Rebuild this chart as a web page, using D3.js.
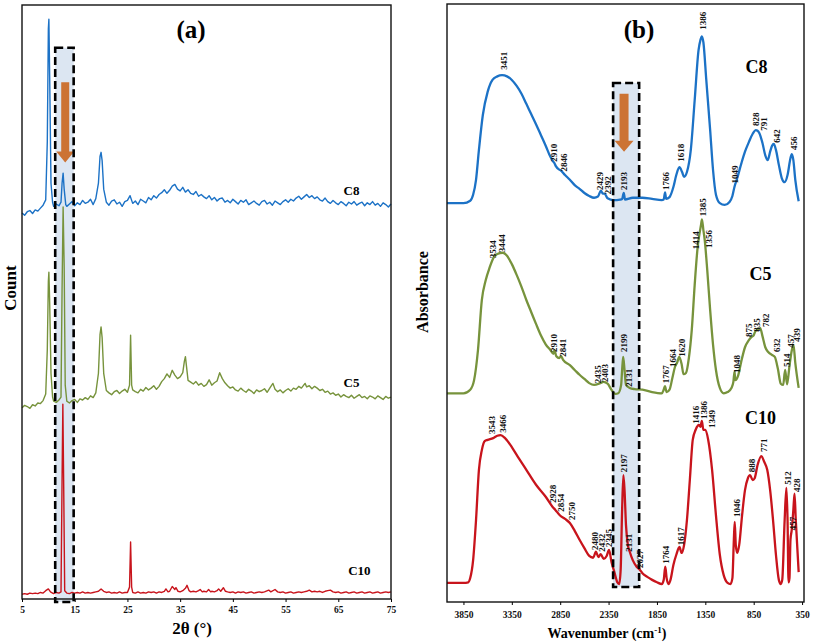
<!DOCTYPE html>
<html><head><meta charset="utf-8">
<script src="https://cdn.jsdelivr.net/npm/d3@7"></script>
<style>
html,body{margin:0;padding:0;background:#fff;}
svg text{font-family:"Liberation Serif","Times New Roman",serif;font-weight:bold;}
</style></head>
<body><svg id="chart" width="813" height="643"></svg>
<script>
// ---------- Panel (a): XRD ----------
const xrdTicks = [5,15,25,35,45,55,65,75];
const xrdC8 = [[5,650],[5.5,646],[6,652],[6.5,654],[7,649],[7.5,655],[8,653],[8.5,658],[9,663],[9.5,672],[9.8,770],[10,960],[10.1,976],[10.25,880],[10.5,700],[10.8,668],[11,661],[11.5,665],[12,662],[12.4,668],[12.6,700],[12.8,717],[13,690],[13.3,664],[13.5,661],[14,665],[14.5,669],[15,662],[15.5,667],[16,664],[16.5,671],[17,666],[17.5,668],[18,673],[18.5,664],[19,674],[19.5,700],[19.8,745],[20,752],[20.2,738],[20.5,690],[21,668],[21.5,663],[22,670],[22.5,672],[23,665],[23.5,668],[24,661],[24.5,669],[25,671],[25.5,679],[26,666],[26.5,670],[27,664],[27.5,673],[28,670],[28.5,667],[29,676],[29.5,672],[30,679],[30.5,675],[31,681],[31.5,684],[32,689],[32.5,683],[33,688],[33.5,695],[34,698],[34.5,690],[35,687],[35.5,693],[36,685],[36.5,689],[37,683],[37.5,681],[38,686],[38.5,678],[39,681],[39.5,677],[40,674],[40.5,679],[41,672],[41.5,676],[42,670],[42.5,674],[43,675],[43.5,668],[44,671],[44.5,667],[45,673],[45.5,669],[46,665],[46.5,671],[47,668],[47.5,672],[48,664],[48.5,667],[49,670],[49.5,666],[50,663],[50.5,669],[51,671],[51.5,665],[52,668],[52.5,663],[53,670],[53.5,667],[54,664],[54.5,669],[55,672],[55.5,668],[56,673],[56.5,670],[57,675],[57.5,678],[58,673],[58.5,677],[59,681],[59.5,676],[60,679],[60.5,674],[61,677],[61.5,672],[62,670],[62.5,675],[63,669],[63.5,666],[64,671],[64.5,667],[65,664],[65.5,669],[66,666],[66.5,662],[67,668],[67.5,665],[68,669],[68.5,663],[69,666],[69.5,668],[70,662],[70.5,667],[71,664],[71.5,669],[72,663],[72.5,666],[73,661],[73.5,667],[74,664],[74.5,660],[75,665]];
const xrdC5 = [[5,322],[5.5,326],[6,324],[6.5,321],[7,327],[7.5,325],[8,330],[8.5,329],[9,334],[9.5,345],[9.8,420],[10,535],[10.1,550],[10.25,500],[10.5,380],[10.8,340],[11,333],[11.5,331],[12,335],[12.4,340],[12.6,520],[12.8,660],[13,560],[13.2,360],[13.5,333],[14,330],[14.5,334],[15,336],[15.5,331],[16,337],[16.5,335],[17,339],[17.5,336],[18,342],[18.5,339],[19,347],[19.5,380],[19.8,445],[20,458],[20.2,440],[20.5,380],[21,351],[21.5,347],[22,344],[22.5,349],[23,351],[23.5,346],[24,350],[24.5,353],[25,348],[25.4,360],[25.6,444],[25.8,360],[26,352],[26.5,349],[27,347],[27.5,353],[28,350],[28.5,356],[29,352],[29.5,355],[30,359],[30.5,353],[31,358],[31.5,366],[32,371],[32.5,379],[33,373],[33.5,385],[34,377],[34.5,371],[35,374],[35.5,381],[35.8,400],[36,408],[36.2,392],[36.5,368],[37,365],[37.5,362],[38,366],[38.5,360],[39,363],[39.5,358],[40,361],[40.5,369],[41,360],[41.5,364],[42,367],[42.5,381],[43,371],[43.5,364],[44,359],[44.5,355],[45,357],[45.5,352],[46,350],[46.5,355],[47,351],[47.5,348],[48,353],[48.5,350],[49,346],[49.5,352],[50,349],[50.5,351],[51,354],[51.5,348],[52,355],[52.6,363],[53,353],[53.5,349],[54,352],[54.5,347],[55,351],[55.5,354],[56,350],[56.5,355],[57,353],[57.5,358],[58,355],[58.7,363],[59,357],[59.5,359],[60,354],[60.5,358],[61,355],[61.5,351],[62,353],[62.5,348],[63,350],[63.5,345],[64,347],[64.5,343],[65,345],[65.5,340],[66,344],[66.5,341],[67,339],[67.5,343],[68,338],[68.5,341],[69,344],[69.5,339],[70,341],[70.5,337],[71,342],[71.5,340],[72,337],[72.5,342],[73,339],[73.5,336],[74,341],[74.5,338],[75,340]];
const xrdC10 = [[5,8],[5.5,9],[6,8],[6.5,10],[7,9],[7.5,10],[8,9],[8.5,11],[9,10],[9.5,14],[10,17],[10.4,12],[10.8,10],[11,9],[11.5,11],[12,10],[12.4,12],[12.6,200],[12.75,328],[12.9,200],[13.1,14],[13.5,10],[14,9],[14.5,11],[15,10],[15.5,11],[16,10],[16.5,12],[17,10],[17.5,11],[18,10],[18.5,11],[19,12],[19.5,13],[20,17],[20.5,13],[21,11],[21.5,12],[22,10],[22.5,11],[23,10],[23.5,12],[24,10],[24.5,11],[25,11],[25.4,20],[25.6,96],[25.8,20],[26,11],[26.5,10],[27,12],[27.5,10],[28,11],[28.5,10],[29,12],[29.5,11],[30,12],[30.5,10],[31,12],[31.5,11],[32,13],[32.3,17],[32.7,12],[33,13],[33.5,21],[34,16],[34.2,19],[34.6,13],[35,12],[35.5,14],[36,18],[36.3,23],[36.7,14],[37,12],[37.5,13],[38,12],[38.5,14],[38.8,16],[39.2,12],[39.5,13],[40,12],[40.4,16],[40.8,12],[41,13],[41.5,12],[42,14],[42.3,17],[42.7,13],[43.2,19],[43.6,13],[44,12],[44.5,11],[45,12],[45.5,10],[46,12],[46.5,11],[47,12],[47.5,10],[48,11],[48.5,12],[49,10],[49.5,11],[50,12],[50.5,11],[51,12],[51.8,15],[52.2,12],[53,16],[53.5,12],[54,11],[54.5,12],[55,10],[55.5,11],[56,12],[56.5,10],[57,11],[57.5,12],[58,11],[58.5,12],[59,13],[59.5,15],[60,12],[60.5,13],[61,12],[61.5,13],[62,11],[62.5,13],[63,14],[63.5,15],[64,12],[64.5,11],[65,12],[65.5,10],[66,11],[66.5,12],[67,10],[67.5,11],[68,12],[68.5,10],[69,11],[69.5,12],[70,10],[70.5,11],[71,12],[71.5,10],[72,11],[72.5,12],[73,10],[73.5,11],[74,12],[74.5,11],[75,12]];
const xrdNames = ["C8","C5","C10"];
const xrdNamePos = [[67.5,680],[67.5,357],[69,40]];   // [2θ, count]
const xrdBox = [11.3,14.8,928,-5];     // x0,x1,yTop,yBottom
const xrdArrow = [13.2,870,735];       // x, yStart, yTip

// ---------- Panel (b): FTIR ----------
const ftirTicks = [3850,3350,2850,2350,1850,1350,850,350];
const ftirC8 = [[4020,66.7],[3850,66.7],[3780,67.1],[3750,68.1],[3720,70.6],[3690,75.6],[3650,81.4],[3600,85.3],[3550,87.3],[3500,87.9],[3451,88.1],[3400,87.9],[3350,87.3],[3300,86.3],[3250,85.0],[3200,83.3],[3150,81.6],[3100,79.9],[3050,78.1],[3000,76.3],[2950,74.4],[2920,73.6],[2910,73.4],[2895,72.9],[2860,72.3],[2846,72.2],[2800,71.4],[2750,70.6],[2700,69.7],[2650,69.1],[2600,68.4],[2550,67.9],[2500,67.6],[2460,67.8],[2429,68.8],[2410,68.3],[2392,68.3],[2360,67.5],[2300,67.2],[2230,67.3],[2210,67.4],[2193,68.4],[2180,67.3],[2100,67.6],[2000,67.6],[1900,67.4],[1800,67.2],[1780,67.3],[1766,68.5],[1755,67.4],[1720,67.7],[1680,69.4],[1650,71.4],[1618,72.7],[1590,71.9],[1570,71.1],[1540,71.9],[1500,75.6],[1460,83.9],[1420,92.3],[1400,94.0],[1386,94.6],[1370,93.6],[1340,87.3],[1300,78.9],[1270,72.2],[1240,68.1],[1200,66.7],[1150,66.4],[1100,66.9],[1070,67.9],[1049,69.4],[1020,70.9],[980,73.2],[940,75.3],[900,76.9],[860,78.3],[828,78.9],[810,78.8],[791,78.4],[760,76.8],[730,74.7],[705,73.9],[680,75.3],[660,76.3],[642,76.6],[620,75.6],[590,73.1],[560,70.9],[530,70.2],[500,71.4],[470,74.2],[456,74.9],[440,73.9],[420,70.6],[385,67.0]];
const ftirC5 = [[4020,34.9],[3850,34.9],[3780,35.5],[3740,37.1],[3700,42.1],[3660,50.5],[3620,53.8],[3580,55.9],[3534,57.7],[3500,58.2],[3444,58.4],[3400,57.9],[3350,56.5],[3300,54.7],[3250,52.7],[3200,50.5],[3150,48.5],[3100,46.5],[3050,44.6],[3000,43.1],[2950,42.1],[2920,41.5],[2910,42.1],[2890,41.1],[2860,40.8],[2841,41.1],[2820,40.5],[2750,39.6],[2700,38.8],[2650,38.0],[2600,37.3],[2550,36.6],[2500,36.3],[2435,36.6],[2403,36.8],[2360,36.5],[2320,35.5],[2280,34.8],[2250,34.9],[2220,36.3],[2210,38.8],[2199,41.0],[2185,38.8],[2170,36.3],[2131,35.8],[2080,35.6],[2000,35.5],[1900,35.1],[1800,34.9],[1780,35.5],[1767,36.1],[1750,35.1],[1720,35.5],[1690,37.5],[1664,39.3],[1640,40.1],[1620,41.0],[1595,39.8],[1575,38.1],[1550,38.3],[1520,40.8],[1490,45.5],[1460,53.0],[1430,59.2],[1414,61.2],[1395,63.0],[1385,64.0],[1370,62.2],[1356,60.5],[1330,55.5],[1300,48.8],[1270,43.0],[1240,38.8],[1200,35.8],[1160,34.9],[1120,35.1],[1080,35.8],[1060,36.8],[1048,38.5],[1040,37.1],[1010,37.9],[980,40.1],[940,42.6],[900,43.8],[875,44.3],[850,44.6],[835,45.2],[800,45.7],[782,45.8],[760,44.5],[730,42.6],[700,41.8],[660,41.3],[632,41.0],[600,39.0],[570,36.5],[545,36.3],[525,38.8],[505,36.4],[480,39.5],[457,42.0],[439,43.0],[420,40.0],[385,35.8]];
const ftirC10 = [[4020,3.2],[3850,3.2],[3800,3.3],[3780,4.0],[3750,7.0],[3720,13.7],[3690,22.1],[3660,25.4],[3630,26.9],[3600,27.1],[3543,27.4],[3500,27.8],[3466,27.9],[3420,27.4],[3350,25.9],[3300,24.6],[3200,22.1],[3100,19.6],[3000,17.6],[2928,15.9],[2900,15.4],[2854,14.5],[2800,13.9],[2750,13.2],[2700,11.9],[2650,10.4],[2600,9.0],[2550,7.7],[2510,7.4],[2480,8.4],[2455,7.5],[2432,8.0],[2400,7.2],[2370,7.7],[2345,8.7],[2320,6.7],[2290,5.0],[2260,3.3],[2240,3.0],[2225,5.4],[2210,15.4],[2197,21.2],[2185,18.7],[2170,12.9],[2150,9.5],[2131,8.4],[2100,7.0],[2060,5.9],[2027,5.4],[2000,4.8],[1950,4.2],[1900,3.7],[1850,3.3],[1800,3.0],[1780,3.7],[1764,5.9],[1750,4.0],[1730,3.0],[1710,3.7],[1680,6.2],[1650,7.9],[1617,9.2],[1595,8.2],[1570,9.5],[1540,13.7],[1510,20.4],[1480,27.1],[1450,28.8],[1416,29.6],[1400,29.3],[1386,30.3],[1370,28.8],[1349,28.8],[1320,27.1],[1280,22.1],[1240,14.5],[1200,7.9],[1160,4.5],[1120,3.2],[1090,3.0],[1070,4.0],[1055,10.4],[1046,13.4],[1035,9.5],[1020,8.2],[1000,9.5],[970,14.5],[940,18.7],[910,20.7],[888,21.2],[860,20.4],[840,20.7],[810,22.9],[771,24.4],[740,23.4],[710,22.1],[680,18.7],[650,13.7],[620,7.9],[590,3.7],[570,3.0],[555,3.7],[530,13.7],[512,19.1],[500,13.7],[490,3.3],[480,4.0],[470,10.4],[457,12.0],[440,15.4],[428,18.1],[415,13.7],[385,5.0]];
// peak labels: [text, label-x (cm-1), label-bottom (absorbance)]
const ftirLabC8 = [["3451",3430,89.0],["2910",2913,73.6],["2846",2810,72.0],["2429",2438,68.9],["2392",2355,68.2],["2193",2190,68.9],["1766",1755,68.9],["1618",1600,73.6],["1386",1375,95.7],["1049",1040,70.0],["828",825,79.6],["791",742,78.8],["642",608,76.8],["456",432,75.6]];
const ftirLabC5 = [["3534",3544,57.5],["3444",3451,58.5],["2910",2913,41.8],["2841",2820,41.0],["2435",2458,36.6],["2403",2385,36.8],["2199",2190,41.8],["2131",2138,36.0],["1767",1755,36.6],["1664",1683,39.3],["1620",1590,41.0],["1414",1445,59.0],["1385",1375,64.5],["1356",1310,59.2],["1048",1021,38.3],["875",897,44.3],["835",815,45.2],["782",721,46.0],["632",608,41.8],["514",504,39.3],["457",463,42.5],["439",400,43.5]];
const ftirLabC10 = [["3543",3555,28.1],["3466",3440,28.3],["2928",2924,16.6],["2854",2841,15.1],["2750",2727,13.7],["2480",2490,8.7],["2432",2420,8.4],["2345",2345,9.2],["2197",2190,21.7],["2131",2138,8.4],["2027",2025,5.7],["1764",1755,6.4],["1617",1600,9.5],["1416",1445,29.8],["1386",1370,30.6],["1349",1280,29.1],["1046",1021,14.2],["888",866,21.7],["771",742,25.1],["512",494,19.6],["457",442,12.0],["428",400,18.4]];
const ftirNames = ["C8","C5","C10"];
const ftirNamePos = [[820,88.5],[780,53.8],[780,29.8]];  // [cm-1, absorbance]
const ftirBox = [2303,2034,86.8,2.5];
const ftirArrow = [2190,85.0,75.3];

const colors = ["#1c72c6","#77933c","#c8141c"];
const boxFill = "#dce6f2";
const arrowColor = "#cc7334";

const svg = d3.select("#chart");

// scales
const xA = d3.scaleLinear().domain([5,75]).range([22,391]);
const yA = d3.scaleLinear().domain([0,1000]).range([599,5]);
const xB = d3.scaleLinear().domain([4020,330]).range([447,804]);
const yB = d3.scaleLinear().domain([0,100]).range([602,4]);

function drawBox(g, xs, ys, b) {
  const x0 = xs(b[0]), x1 = xs(b[1]), y0 = ys(b[2]), y1 = ys(b[3]);
  const l = Math.min(x0,x1), r = Math.max(x0,x1);
  g.append("rect").attr("x",l).attr("y",y0).attr("width",r-l).attr("height",y1-y0)
    .attr("fill",boxFill);
  return {l,r,y0,y1};
}
function drawBoxBorder(g, bb) {
  g.append("rect").attr("x",bb.l).attr("y",bb.y0).attr("width",bb.r-bb.l).attr("height",bb.y1-bb.y0)
    .attr("fill","none").attr("stroke","#000").attr("stroke-width",2.6).attr("stroke-dasharray","8,4");
}
function drawArrow(g, xs, ys, a, shaftW, headW, headH) {
  const cx = xs(a[0]), ys0 = ys(a[1]), tip = ys(a[2]);
  const hb = tip - headH;
  const p = `M${cx-shaftW/2},${ys0} L${cx+shaftW/2},${ys0} L${cx+shaftW/2},${hb} L${cx+headW/2},${hb} L${cx},${tip} L${cx-headW/2},${hb} L${cx-shaftW/2},${hb} Z`;
  g.append("path").attr("d",p).attr("fill",arrowColor);
}

// ---------- Panel (a) ----------
const gA = svg.append("g");
const bbA = drawBox(gA, xA, yA, xrdBox);
const lineA = d3.line().x(d=>xA(d[0])).y(d=>yA(d[1]));
[xrdC10, xrdC5, xrdC8].forEach((s,i)=>{
  const c = [colors[2],colors[1],colors[0]][i];
  gA.append("path").datum(s).attr("d",lineA).attr("fill","none")
    .attr("stroke",c).attr("stroke-width",1.4).attr("stroke-linejoin","round");
});
drawArrow(gA, xA, yA, xrdArrow, 8, 18, 11);
drawBoxBorder(gA, bbA);
gA.append("rect").attr("x",22).attr("y",5).attr("width",369).attr("height",594)
  .attr("fill","none").attr("stroke","#111").attr("stroke-width",1.4);
const axA = gA.append("g").attr("transform","translate(0,599)")
  .call(d3.axisBottom(xA).tickValues(xrdTicks).tickSize(3).tickSizeOuter(0).tickFormat(d3.format("d")));
axA.select(".domain").remove();
axA.selectAll("text").attr("font-size",9.5).attr("dy","0.85em").attr("fill","#111")
  .style("font-family","Liberation Serif").style("font-weight","bold");
xrdNames.forEach((n,i)=>{
  gA.append("text").attr("x",xA(xrdNamePos[i][0])).attr("y",yA(xrdNamePos[i][1]))
    .attr("text-anchor","middle").attr("font-size",13).text(n);
});
gA.append("text").attr("x",191).attr("y",38).attr("text-anchor","middle").attr("font-size",25).text("(a)");
gA.append("text").attr("x",192).attr("y",634).attr("text-anchor","middle").attr("font-size",17).text("2θ (°)");
gA.append("text").attr("transform","translate(16,288) rotate(-90)").attr("text-anchor","middle")
  .attr("font-size",17).text("Count");

// ---------- Panel (b) ----------
const gB = svg.append("g");
const bbB = drawBox(gB, xB, yB, ftirBox);
const lineB = d3.line().x(d=>xB(d[0])).y(d=>yB(d[1])).curve(d3.curveMonotoneX);
[ftirC8, ftirC5, ftirC10].forEach((s,i)=>{
  gB.append("path").datum(s).attr("d",lineB).attr("fill","none")
    .attr("stroke",colors[i]).attr("stroke-width",2.3).attr("stroke-linejoin","round");
});
drawArrow(gB, xB, yB, ftirArrow, 9, 19, 11);
drawBoxBorder(gB, bbB);
[ftirLabC8, ftirLabC5, ftirLabC10].forEach(labs=>{
  labs.forEach(l=>{
    gB.append("text").attr("transform",`translate(${xB(l[1])},${yB(l[2])}) rotate(-90)`)
      .attr("text-anchor","start").attr("dy","0.35em").attr("font-size",9).attr("fill","#111").text(l[0]);
  });
});
gB.append("rect").attr("x",447).attr("y",4).attr("width",357).attr("height",598)
  .attr("fill","none").attr("stroke","#111").attr("stroke-width",1.4);
const axB = gB.append("g").attr("transform","translate(0,602)")
  .call(d3.axisBottom(xB).tickValues(ftirTicks).tickSize(3).tickSizeOuter(0).tickFormat(d3.format("d")));
axB.select(".domain").remove();
axB.selectAll("text").attr("font-size",9.5).attr("dy","1.05em").attr("fill","#111")
  .style("font-family","Liberation Serif").style("font-weight","bold");
ftirNames.forEach((n,i)=>{
  gB.append("text").attr("x",xB(ftirNamePos[i][0])).attr("y",yB(ftirNamePos[i][1]))
    .attr("text-anchor","middle").attr("font-size",18).text(n);
});
gB.append("text").attr("x",639).attr("y",38).attr("text-anchor","middle").attr("font-size",25).text("(b)");
const wt = gB.append("text").attr("x",607).attr("y",638).attr("text-anchor","middle").attr("font-size",14);
wt.append("tspan").text("Wavenumber (cm");
wt.append("tspan").attr("dy",-5).attr("font-size",9).text("-1");
wt.append("tspan").attr("dy",5).text(")");
gB.append("text").attr("transform","translate(428,292) rotate(-90)").attr("text-anchor","middle")
  .attr("font-size",16).text("Absorbance");
</script></body></html>
